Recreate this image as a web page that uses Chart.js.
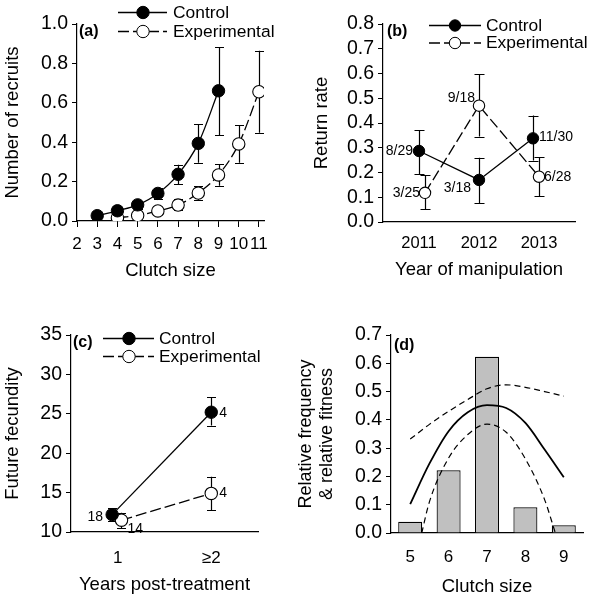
<!DOCTYPE html>
<html><head><meta charset="utf-8">
<script src="https://cdn.jsdelivr.net/npm/chart.js@4/dist/chart.umd.min.js"></script>
<style>
html,body{margin:0;padding:0;background:#fff;}
#wrap{position:relative;width:591px;height:599px;overflow:hidden;}
canvas{position:absolute;}
</style></head><body>
<div id="wrap">
<canvas id="ca" width="295" height="300" style="left:0;top:0"></canvas>
<canvas id="cb" width="296" height="300" style="left:295px;top:0"></canvas>
<canvas id="cc" width="295" height="299" style="left:0;top:300px"></canvas>
<canvas id="cd" width="296" height="299" style="left:295px;top:300px"></canvas>
</div>
<script>
// ---------- Panel (a) ----------
const aXTicks = [2,3,4,5,6,7,8,9,10,11];
const aYTicks = [0,0.2,0.4,0.6,0.8,1.0];
const aCtrlX  = [3,4,5,6,7,8,9];
const aCtrlY  = [0.027,0.052,0.082,0.140,0.237,0.394,0.661];
const aCtrlLo = [0.022,0.042,0.062,0.112,0.188,0.296,0.437];
const aCtrlHi = [0.032,0.062,0.104,0.168,0.286,0.491,0.883];
const aExpX   = [4,5,6,7,8,9,10,11];
const aExpY   = [0.017,0.028,0.051,0.081,0.142,0.234,0.391,0.656];
const aExpLo  = [0.012,0.020,0.038,0.056,0.107,0.179,0.296,0.448];
const aExpHi  = [0.022,0.036,0.064,0.110,0.178,0.288,0.487,0.864];

// ---------- Panel (b) ----------
const bYears    = [2011,2012,2013];
const bYTicks   = [0,0.1,0.2,0.3,0.4,0.5,0.6,0.7,0.8];
const bCtrlX    = [2011,2012,2012.9];
const bCtrlY    = [0.287,0.170,0.338];
const bCtrlLo   = [0.193,0.076,0.248];
const bCtrlHi   = [0.372,0.260,0.430];
const bCtrlN    = ['8/29','3/18','11/30'];
const bExpX     = [2011.1,2012,2013];
const bExpY     = [0.118,0.470,0.183];
const bExpLo    = [0.051,0.345,0.105];
const bExpHi    = [0.190,0.597,0.261];
const bExpN     = ['3/25','9/18','6/28'];

// ---------- Panel (c) ----------
const cXTicks      = [1,2];
const cXTickLabels = ['1','\u22652'];
const cYTicks      = [10,15,20,25,30,35];
const cCtrlX  = [0.94,2];
const cCtrlY  = [12.2,25.2];
const cCtrlLo = [11.35,23.5];
const cCtrlHi = [13.0,27.1];
const cCtrlN  = ['18','4'];
const cExpX   = [1.04,2];
const cExpY   = [11.5,14.9];
const cExpLo  = [10.5,12.75];
const cExpHi  = [12.45,17.0];
const cExpN   = ['14','4'];

// ---------- Panel (d) ----------
const dClutch  = [5,6,7,8,9];
const dFreq    = [0.040,0.222,0.623,0.091,0.027];
const dYTicks  = [0,0.1,0.2,0.3,0.4,0.5,0.6,0.7];
const dFitX    = [5,5.5,6,6.5,7,7.5,8,8.5,9];
const dFitY    = [0.102,0.245,0.360,0.427,0.452,0.442,0.389,0.295,0.197];
const dUpX     = [5,5.5,6,6.5,7,7.5,8,8.5,9];
const dUpY     = [0.332,0.384,0.430,0.472,0.510,0.524,0.515,0.500,0.484];
const dLoX     = [5.3,5.5,6,6.5,7,7.5,8,8.5,8.78];
const dLoY     = [0,0.110,0.265,0.348,0.385,0.356,0.262,0.118,0];

const FONT = "'Liberation Sans', Arial, Helvetica, sans-serif";
Chart.defaults.font.family = FONT;
Chart.defaults.color = '#000';

const pts = (xs, ys) => xs.map((x,i)=>({x:x, y:ys[i]}));

const decor = {
  id: 'decor',
  beforeDatasetsDraw(chart, args, o) {
    const ctx = chart.ctx, ys = chart.scales.y;
    (o.errors||[]).forEach(e => {
      const meta = chart.getDatasetMeta(e.dataset);
      meta.data.forEach((p, j) => {
        const x = Math.round(p.x) + 0.5;
        const y1 = ys.getPixelForValue(e.lo[j]), y2 = ys.getPixelForValue(e.hi[j]);
        const c = o.cap || 4.5;
        ctx.save(); ctx.strokeStyle = '#000'; ctx.lineWidth = 1.2; ctx.setLineDash([]);
        ctx.beginPath();
        ctx.moveTo(x, y1); ctx.lineTo(x, y2);
        ctx.moveTo(x - c, Math.round(y1)+0.5); ctx.lineTo(x + c, Math.round(y1)+0.5);
        ctx.moveTo(x - c, Math.round(y2)+0.5); ctx.lineTo(x + c, Math.round(y2)+0.5);
        ctx.stroke(); ctx.restore();
      });
    });
  },
  afterDraw(chart, args, o) {
    const ctx = chart.ctx;
    ctx.save();
    if (o.legend) {
      const L = o.legend;
      L.rows.forEach((r, i) => {
        const ds = chart.data.datasets[r.dataset];
        const y = L.y[i];
        ctx.strokeStyle = '#000'; ctx.lineWidth = 1.3;
        ctx.setLineDash(ds.borderDash || []);
        ctx.beginPath(); ctx.moveTo(L.x1, y + 0.5); ctx.lineTo(L.x2, y + 0.5); ctx.stroke();
        ctx.setLineDash([]); ctx.lineWidth = 1;
        ctx.beginPath(); ctx.arc(L.mx, y + 0.5, ds.pointRadius, 0, Math.PI*2);
        ctx.fillStyle = ds.pointBackgroundColor; ctx.fill(); ctx.stroke();
        ctx.fillStyle = '#000'; ctx.font = L.font + 'px ' + FONT;
        ctx.textAlign = 'left'; ctx.textBaseline = 'middle';
        ctx.fillText(ds.label, L.tx, y + 1);
      });
    }
    if (o.panel) {
      ctx.fillStyle = '#000'; ctx.font = 'bold ' + o.panel.size + 'px ' + FONT;
      ctx.textAlign = 'left'; ctx.textBaseline = 'middle';
      ctx.fillText(o.panel.text, chart.chartArea.left + o.panel.dx, chart.chartArea.top + o.panel.dy);
    }
    (o.notes||[]).forEach(n => {
      const meta = chart.getDatasetMeta(n.dataset);
      n.texts.forEach((t, j) => {
        const p = meta.data[j], off = n.offsets[j];
        ctx.fillStyle = '#000'; ctx.font = (n.size || 14) + 'px ' + FONT;
        ctx.textAlign = off[2]; ctx.textBaseline = 'middle';
        ctx.fillText(t, p.x + off[0], p.y + off[1]);
      });
    });
    ctx.restore();
  }
};

function yAxis(min, max, ticks, fmt, width, title, titlePad, extra) {
  return Object.assign({
    type: 'linear', min: min, max: max,
    afterBuildTicks: s => { s.ticks = ticks.map(v => ({value: v})); },
    afterFit: s => { s.width = width; },
    grid: {display: true, drawOnChartArea: false, drawTicks: true, tickLength: 5, color: '#000', lineWidth: 1},
    border: {display: true, color: '#000', width: 1.2},
    ticks: {color: '#000', font: {size: 19.5, family: FONT}, padding: 4, autoSkip: false, callback: fmt},
    title: {display: true, text: title, color: '#000', font: {size: 18.5, family: FONT}, padding: {top: titlePad, bottom: 0}}
  }, extra || {});
}
function xAxis(min, max, ticks, fmt, height, title, titlePad, tickPad, drawTicks, fontSize) {
  return {
    type: 'linear', min: min, max: max, offset: false,
    afterBuildTicks: s => { s.ticks = ticks.map(v => ({value: v})); },
    afterFit: s => { s.height = height; },
    grid: {display: drawTicks, drawOnChartArea: false, drawTicks: drawTicks, tickLength: 6, color: '#000', offset: false},
    border: {display: true, color: '#000', width: 1.2},
    ticks: {color: '#000', font: {size: fontSize, family: FONT}, padding: tickPad, maxRotation: 0, autoSkip: false, callback: fmt},
    title: {display: true, text: title, color: '#000', font: {size: 18.5, family: FONT}, padding: {top: 0, bottom: titlePad}}
  };
}
const base = {responsive: false, animation: false, devicePixelRatio: 1, events: []};
const ctrlStyle = {borderColor: '#000', borderWidth: 1.3, pointRadius: 6.2, pointBackgroundColor: '#000', pointBorderColor: '#000', pointBorderWidth: 1, fill: false, cubicInterpolationMode: 'monotone'};
const expStyle  = {borderColor: '#000', borderWidth: 1.3, pointRadius: 6.2, pointBackgroundColor: '#fff', pointBorderColor: '#000', pointBorderWidth: 1.1, fill: false, borderDash: [11,4], cubicInterpolationMode: 'monotone'};

// ----- (a) -----
new Chart(document.getElementById('ca'), {
  type: 'line',
  data: {datasets: [
    Object.assign({label: 'Control', data: pts(aCtrlX, aCtrlY)}, ctrlStyle),
    Object.assign({label: 'Experimental', data: pts(aExpX, aExpY)}, expStyle)
  ]},
  options: Object.assign({}, base, {
    layout: {padding: {left: 0, top: 24, right: 31, bottom: 0}},
    plugins: {legend: {display: false}, tooltip: {enabled: false},
      decor: {
        cap: 4.5,
        errors: [{dataset: 0, lo: aCtrlLo, hi: aCtrlHi}, {dataset: 1, lo: aExpLo, hi: aExpHi}],
        legend: {x1: 118, x2: 167, mx: 143, tx: 173, y: [12, 31], font: 17.4, rows: [{dataset: 0}, {dataset: 1}]},
        panel: {text: '(a)', size: 16, dx: 2, dy: 8}
      }},
    scales: {
      x: xAxis(2, 11.25, aXTicks, v => String(v), 79, 'Clutch size', 18, 7, true, 17),
      y: yAxis(0, 1, aYTicks, v => v.toFixed(1), 77, 'Number of recruits', 2)
    }
  }),
  plugins: [decor]
});

// ----- (b) -----
new Chart(document.getElementById('cb'), {
  type: 'line',
  data: {datasets: [
    Object.assign({label: 'Control', data: pts(bCtrlX, bCtrlY)}, ctrlStyle, {cubicInterpolationMode: 'default', tension: 0, pointRadius: 5.7}),
    Object.assign({label: 'Experimental', data: pts(bExpX, bExpY)}, expStyle, {cubicInterpolationMode: 'default', tension: 0, pointRadius: 5.7})
  ]},
  options: Object.assign({}, base, {
    layout: {padding: {left: 0, top: 24, right: 16, bottom: 0}},
    plugins: {legend: {display: false}, tooltip: {enabled: false},
      decor: {
        cap: 5,
        errors: [{dataset: 0, lo: bCtrlLo, hi: bCtrlHi}, {dataset: 1, lo: bExpLo, hi: bExpHi}],
        legend: {x1: 134, x2: 186, mx: 160, tx: 191, y: [25, 42.5], font: 17.4, rows: [{dataset: 0}, {dataset: 1}]},
        panel: {text: '(b)', size: 16, dx: 4, dy: 8},
        notes: [
          {dataset: 0, texts: bCtrlN, size: 14, offsets: [[-6, 0, 'right'], [-8, 8, 'right'], [6, -1, 'left']]},
          {dataset: 1, texts: bExpN, size: 14, offsets: [[-5, 0, 'right'], [-4, -8, 'right'], [5, 0, 'left']]}
        ]
      }},
    scales: {
      x: xAxis(2010.4, 2013.6, bYears, v => String(v), 78, 'Year of manipulation', 19, 12, false, 16.5),
      y: yAxis(0, 0.8, bYTicks, v => v.toFixed(1), 88, 'Return rate', 16)
    }
  }),
  plugins: [decor]
});

// ----- (c) -----
new Chart(document.getElementById('cc'), {
  type: 'line',
  data: {datasets: [
    Object.assign({label: 'Control', data: pts(cCtrlX, cCtrlY)}, ctrlStyle, {cubicInterpolationMode: 'default', tension: 0}),
    Object.assign({label: 'Experimental', data: pts(cExpX, cExpY)}, expStyle, {cubicInterpolationMode: 'default', tension: 0})
  ]},
  options: Object.assign({}, base, {
    layout: {padding: {left: 0, top: 35, right: 37, bottom: 0}},
    plugins: {legend: {display: false}, tooltip: {enabled: false},
      decor: {
        cap: 4.5,
        errors: [{dataset: 0, lo: cCtrlLo, hi: cCtrlHi}, {dataset: 1, lo: cExpLo, hi: cExpHi}],
        legend: {x1: 103, x2: 154, mx: 129, tx: 159, y: [38, 56], font: 17.4, rows: [{dataset: 0}, {dataset: 1}]},
        panel: {text: '(c)', size: 16, dx: 2, dy: 8},
        notes: [
          {dataset: 0, texts: cCtrlN, size: 14, offsets: [[-9, 2, 'right'], [8, 1, 'left']]},
          {dataset: 1, texts: cExpN, size: 14, offsets: [[6, 9, 'left'], [8, 0, 'left']]}
        ]
      }},
    scales: {
      x: xAxis(0.5, 2.5, cXTicks, (v, i) => cXTickLabels[i], 67, 'Years post-treatment', 3, 16, false, 17),
      y: yAxis(10, 35, cYTicks, v => String(v), 71, 'Future fecundity', 2)
    }
  }),
  plugins: [decor]
});

// ----- (d) -----
new Chart(document.getElementById('cd'), {
  type: 'bar',
  data: {datasets: [
    {type: 'line', label: 'fit', data: pts(dFitX, dFitY), borderColor: '#000', borderWidth: 1.8, pointRadius: 0, fill: false, cubicInterpolationMode: 'monotone', order: 1},
    {type: 'line', label: 'upper', data: pts(dUpX, dUpY), borderColor: '#000', borderWidth: 1.2, borderDash: [6,4], pointRadius: 0, fill: false, cubicInterpolationMode: 'monotone', order: 1},
    {type: 'line', label: 'lower', data: pts(dLoX, dLoY), borderColor: '#000', borderWidth: 1.2, borderDash: [6,4], pointRadius: 0, fill: false, cubicInterpolationMode: 'monotone', order: 1},
    {type: 'bar', label: 'freq', data: pts(dClutch, dFreq), backgroundColor: '#c0c0c0', borderColor: '#000', borderWidth: 1.2, barPercentage: 0.625, categoryPercentage: 1, order: 2}
  ]},
  options: Object.assign({}, base, {
    layout: {padding: {left: 0, top: 35, right: 8, bottom: 0}},
    plugins: {legend: {display: false}, tooltip: {enabled: false},
      decor: {panel: {text: '(d)', size: 16, dx: 3, dy: 11}}},
    scales: {
      x: xAxis(4.5, 9.5, dClutch, v => String(v), 66, 'Clutch size', 1, 14, false, 17),
      y: yAxis(0, 0.7, dYTicks, v => v.toFixed(1), 96, ['Relative frequency', '& relative fitness'], 0.4,
        {title: {display: true, text: ['Relative frequency', '& relative fitness'], color: '#000', font: {size: 18, family: FONT, lineHeight: 1.18}, padding: {top: 0.4, bottom: 0}}})
    }
  }),
  plugins: [decor]
});
</script>
</body></html>
